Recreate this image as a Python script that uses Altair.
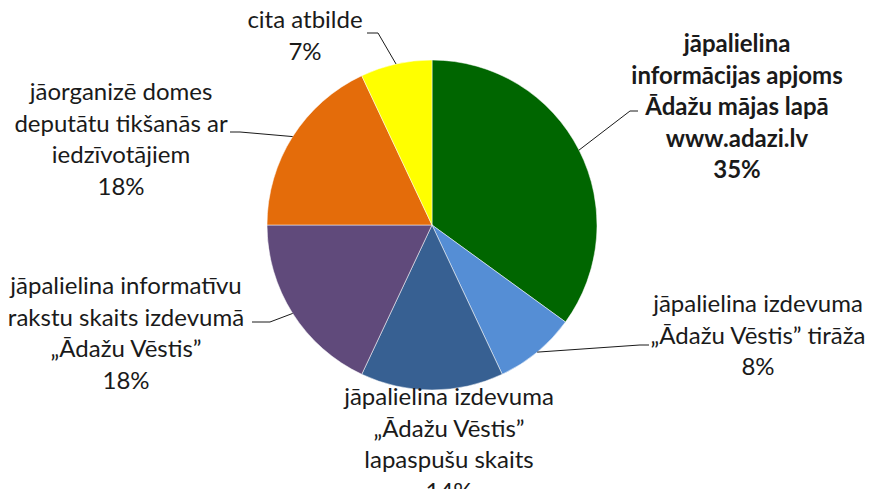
import altair as alt
import pandas as pd

# ---- data ----
categories = [
    "jāpalielina\ninformācijas apjoms\nĀdažu mājas lapā\nwww.adazi.lv",
    "jāpalielina izdevuma\n„Ādažu Vēstis” tirāža",
    "jāpalielina izdevuma\n„Ādažu Vēstis”\nlapaspušu skaits",
    "jāpalielina informatīvu\nrakstu skaits izdevumā\n„Ādažu Vēstis”",
    "jāorganizē domes\ndeputātu tikšanās ar\niedzīvotājiem",
    "cita atbilde",
]
values = [35, 8, 14, 18, 18, 7]
bold = [True, False, False, False, False, False]

# ---- style / layout ----
colors = ["#006600", "#558ED5", "#376092", "#604A7B", "#E46C0A", "#FFFF00"]
W, H = 859, 481
CX, CY, R = 424, 217, 165
# label anchor = centre x, first-line y
label_x = [729, 750, 441, 118, 113, 297]
label_y = [37, 297, 390, 279, 85, 13]
elbow_x = [622, 632, None, 262, 232, 370]
elbow_y = [103, 337, None, 314, 124, 25]
end_x = [630, 641, None, 244, 222, 359]
end_y = [103, 337, None, 314, 124, 25]

df = pd.DataFrame({
    "category": categories,
    "value": values,
    "idx": list(range(len(values))),
    "label": [f"{c}\n{v}%" for c, v in zip(categories, values)],
    "bold": bold,
    "lx": label_x, "ly": label_y,
    "bx": elbow_x, "by": elbow_y,
    "tx": end_x, "ty": end_y,
})

base = alt.Chart(df)

pie = base.mark_arc(outerRadius=R, stroke="white", strokeWidth=0.5).encode(
    theta=alt.Theta("value:Q", stack=True),
    color=alt.Color("category:N", scale=alt.Scale(domain=categories, range=colors), legend=None),
    order=alt.Order("idx:Q"),
    x=alt.value(CX),
    y=alt.value(CY),
)

edges = base.transform_joinaggregate(
    total="sum(value)"
).transform_window(
    cum="sum(value)", sort=[alt.SortField("idx")], frame=[None, 0]
).transform_calculate(
    mid="(datum.cum - datum.value/2) / datum.total * 2 * PI",
).transform_calculate(
    ex=f"{CX} + {R} * sin(datum.mid)",
    ey=f"{CY} - {R} * cos(datum.mid)",
).transform_filter("isValid(datum.bx)")

lead1 = edges.mark_rule(color="#1a1a1a", strokeWidth=1).encode(
    x=alt.X("ex:Q", scale=None), y=alt.Y("ey:Q", scale=None),
    x2="bx:Q", y2="by:Q",
)
lead2 = edges.mark_rule(color="#1a1a1a", strokeWidth=1).encode(
    x=alt.X("bx:Q", scale=None), y=alt.Y("by:Q", scale=None),
    x2="tx:Q", y2="ty:Q",
)

text_kw = dict(lineBreak="\n", font="Lato", fontSize=24, lineHeight=31.5,
               align="center", baseline="middle", color="#1a1a1a")
txt_normal = base.transform_filter("!datum.bold").mark_text(**text_kw).encode(
    x=alt.X("lx:Q", scale=None), y=alt.Y("ly:Q", scale=None), text="label:N"
)
txt_bold = base.transform_filter("datum.bold").mark_text(fontWeight="bold", **text_kw).encode(
    x=alt.X("lx:Q", scale=None), y=alt.Y("ly:Q", scale=None), text="label:N"
)

chart = alt.layer(pie, lead1, lead2, txt_normal, txt_bold).properties(
    width=W, height=H, padding=0, autosize=alt.AutoSizeParams(type="none")
).configure_view(stroke=None)

chart.save("out.html", embed_options={"renderer": "svg", "actions": False})
